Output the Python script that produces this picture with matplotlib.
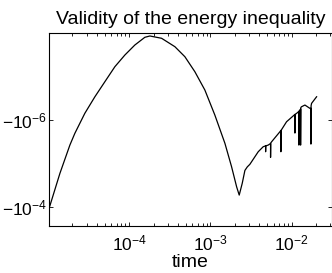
import matplotlib
matplotlib.use("Agg")
import matplotlib.pyplot as plt
from matplotlib.ticker import FixedLocator, FixedFormatter, LogLocator, NullLocator

plt.rcParams['font.family'] = ['Liberation Sans', 'DejaVu Sans']
plt.rcParams['mathtext.fontset'] = 'custom'
plt.rcParams['mathtext.rm'] = 'Liberation Sans'
plt.rcParams['mathtext.it'] = 'Liberation Sans:italic'
plt.rcParams['mathtext.bf'] = 'Liberation Sans:bold'

# time values and (negative) energy-inequality gap
time = [1.054e-5, 1.403e-5, 1.862e-5, 2.143e-5, 2.844e-5, 3.784e-5, 5.023e-5,
        6.668e-5, 8.851e-5, 1.175e-4, 1.560e-4, 1.799e-4, 2.506e-4, 3.656e-4,
        4.853e-4, 6.442e-4, 8.551e-4, 1.135e-3, 1.510e-3, 1.824e-3, 2.104e-3,
        2.265e-3, 2.466e-3, 2.661e-3, 2.850e-3, 3.062e-3, 3.214e-3, 3.882e-3,
        4.467e-3, 4.786e-3, 4.786e-3, 4.808e-3, 5.152e-3, 5.508e-3, 5.508e-3,
        5.534e-3, 5.675e-3, 7.178e-3, 7.379e-3, 7.379e-3, 7.413e-3, 8.670e-3,
        1.099e-2, 1.099e-2, 1.104e-2, 1.153e-2, 1.230e-2, 1.230e-2, 1.245e-2,
        1.291e-2, 1.291e-2, 1.300e-2, 1.327e-2, 1.459e-2, 1.679e-2, 1.730e-2,
        1.730e-2, 1.738e-2, 1.762e-2, 2.032e-2]
gap = [-9.6e-5, -1.698e-5, -3.776e-6, -2.028e-6, -6.998e-7, -2.904e-7, -1.306e-7,
       -5.888e-8, -3.170e-8, -1.862e-8, -1.236e-8, -1.153e-8, -1.303e-8, -2.037e-8,
       -3.467e-8, -7.691e-8, -2.032e-7, -7.674e-7, -3.443e-6, -1.194e-5, -3.459e-5,
       -5.370e-5, -2.884e-5, -1.450e-5, -1.200e-5, -1.050e-5, -9.162e-6, -5.383e-6,
       -4.130e-6, -3.936e-6, -5.383e-6, -3.936e-6, -3.776e-6, -3.467e-6, -7.244e-6,
       -3.388e-6, -3.170e-6, -1.862e-6, -1.738e-6, -5.383e-6, -1.738e-6, -1.094e-6,
       -7.413e-7, -1.995e-6, -7.413e-7, -6.998e-7, -6.310e-7, -3.776e-6, -6.026e-7,
       -5.623e-7, -3.776e-6, -5.129e-7, -4.932e-7, -4.508e-7, -5.370e-7, -5.370e-7,
       -3.581e-6, -4.677e-7, -4.121e-7, -2.904e-7]

xtick_vals = [1e-4, 1e-3, 1e-2]
xtick_labels = [r'$10^{-4}$', r'$10^{-3}$', r'$10^{-2}$']
ytick_vals = [1e-6, 1e-4]
ytick_labels = [r'$-10^{-6}$', r'$-10^{-4}$']

fig = plt.figure(figsize=(3.32, 2.73), dpi=100)
ax = fig.add_axes([49/332, 47.5/273, 282.5/332, 192.2/273])

ax.plot(time, [-g for g in gap], color='black', lw=0.9)
ax.set_xscale('log')
ax.set_yscale('log')
ax.set_xlim(1.03e-5, 3.1e-2)
ax.set_ylim(2.7e-4, 1.0e-8)

ax.xaxis.set_major_locator(FixedLocator(xtick_vals))
ax.xaxis.set_major_formatter(FixedFormatter(xtick_labels))
ax.xaxis.set_minor_locator(LogLocator(base=10, subs=range(2, 10)))
ax.yaxis.set_major_locator(FixedLocator(ytick_vals))
ax.yaxis.set_major_formatter(FixedFormatter(ytick_labels))
ax.yaxis.set_minor_locator(NullLocator())

ax.tick_params(which='both', direction='in', top=True, right=True, labelsize=12.5,
               width=0.6, color='black')
ax.tick_params(which='major', length=3)
ax.tick_params(which='minor', length=2)
ax.tick_params(axis='x', pad=6)
ax.tick_params(axis='y', pad=1.5)
for s in ax.spines.values():
    s.set_linewidth(0.8)

ax.set_title('Validity of the energy inequality', fontsize=14, pad=7)
ax.set_xlabel('time', fontsize=14, labelpad=0)

fig.savefig('out.png', dpi=100)
